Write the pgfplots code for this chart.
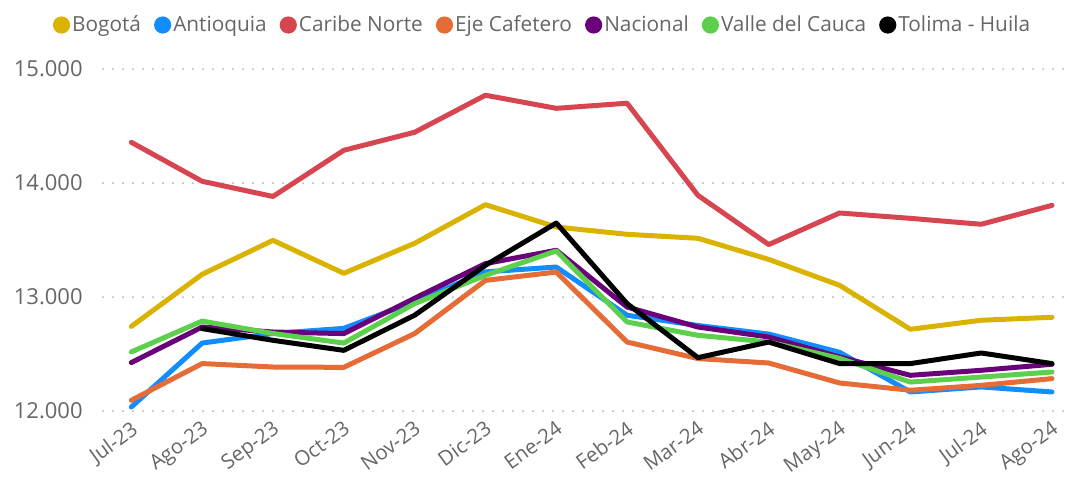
\documentclass[border=0pt]{standalone}
\usepackage{pgfplots}
\pgfplotsset{compat=1.18}
\usepackage{fontspec}
\setmainfont{Open Sans}
\definecolor{cBog}{HTML}{D9B300}
\definecolor{cAnt}{HTML}{118DFF}
\definecolor{cCar}{HTML}{D64550}
\definecolor{cEje}{HTML}{E66C37}
\definecolor{cNac}{HTML}{6B007B}
\definecolor{cVal}{HTML}{5CCF4C}
\definecolor{cTol}{HTML}{000000}
\definecolor{txt}{HTML}{666666}
\begin{document}
\begin{tikzpicture}
\begin{axis}[
  name=ax,
  scale only axis,
  width=483pt, height=171pt,
  xmin=-0.4, xmax=13.24,
  ymin=12000, ymax=15000,
  clip=false,
  scaled y ticks=false,
  axis line style={draw=none},
  major tick length=0pt,
  xtick={0,...,13},
  xticklabels={Jul-23,Ago-23,Sep-23,Oct-23,Nov-23,Dic-23,Ene-24,Feb-24,Mar-24,Abr-24,May-24,Jun-24,Jul-24,Ago-24},
  xticklabel style={rotate=36, anchor=north east, font=\fontsize{10.2}{12}\selectfont, text=txt, inner sep=1pt, xshift=-2pt, yshift=-2pt},
  ytick={12000,13000,14000,15000},
  yticklabels={12.000,13.000,14.000,15.000},
  yticklabel style={font=\fontsize{11}{13}\selectfont, text=txt, inner sep=0pt, xshift=-10pt},
  ymajorgrids,
  major grid style={draw=black!30, line width=1pt, line cap=round, dash pattern=on 0pt off 5pt},
  every axis plot/.append style={line width=2.5pt, line join=round, line cap=round, mark=none},
  legend image code/.code={\fill[#1, draw=none] (0.15em,0) circle (4.3pt);},
  legend columns=7,
  legend style={at={(0.455,1)}, anchor=center, yshift=22pt, draw=none, fill=none,
    font=\fontsize{10.4}{12}\selectfont, text=txt,
    /tikz/every even column/.append style={column sep=5.5pt},
    nodes={inner sep=1pt}},
]
\addplot[cBog] coordinates {(0,12742)(1,13199)(2,13497)(3,13208)(4,13471)(5,13810)(6,13614)(7,13550)(8,13515)(9,13330)(10,13103)(11,12717)(12,12796)(13,12822)};
\addlegendentry{Bogotá}
\addplot[cAnt] coordinates {(0,12035)(1,12596)(2,12680)(3,12725)(4,12960)(5,13220)(6,13263)(7,12840)(8,12750)(9,12675)(10,12515)(11,12167)(12,12211)(13,12167)};
\addlegendentry{Antioquia}
\addplot[cCar] coordinates {(0,14357)(1,14015)(2,13882)(3,14287)(4,14445)(5,14770)(6,14655)(7,14700)(8,13892)(9,13460)(10,13737)(11,13690)(12,13638)(13,13804)};
\addlegendentry{Caribe Norte}
\addplot[cEje] coordinates {(0,12094)(1,12416)(2,12386)(3,12383)(4,12679)(5,13146)(6,13219)(7,12605)(8,12460)(9,12421)(10,12246)(11,12182)(12,12225)(13,12284)};
\addlegendentry{Eje Cafetero}
\addplot[cNac] coordinates {(0,12425)(1,12737)(2,12693)(3,12679)(4,12989)(5,13293)(6,13410)(7,12912)(8,12737)(9,12649)(10,12474)(11,12313)(12,12357)(13,12410)};
\addlegendentry{Nacional}
\addplot[cVal] coordinates {(0,12518)(1,12789)(2,12680)(3,12596)(4,12942)(5,13190)(6,13404)(7,12781)(8,12664)(9,12605)(10,12462)(11,12254)(12,12298)(13,12342)};
\addlegendentry{Valle del Cauca}
\addplot[cTol] coordinates {(1,12723)(2,12620)(3,12532)(4,12840)(5,13278)(6,13649)(7,12942)(8,12468)(9,12605)(10,12416)(11,12416)(12,12509)(13,12416)};
\addlegendentry{Tolima - Huila}
\end{axis}
\pgfresetboundingbox
\path[use as bounding box] ([shift={(-51.5pt,-33.5pt)}]ax.south west) rectangle ([shift={(486.5pt,205.5pt)}]ax.south west);
\end{tikzpicture}
\end{document}
